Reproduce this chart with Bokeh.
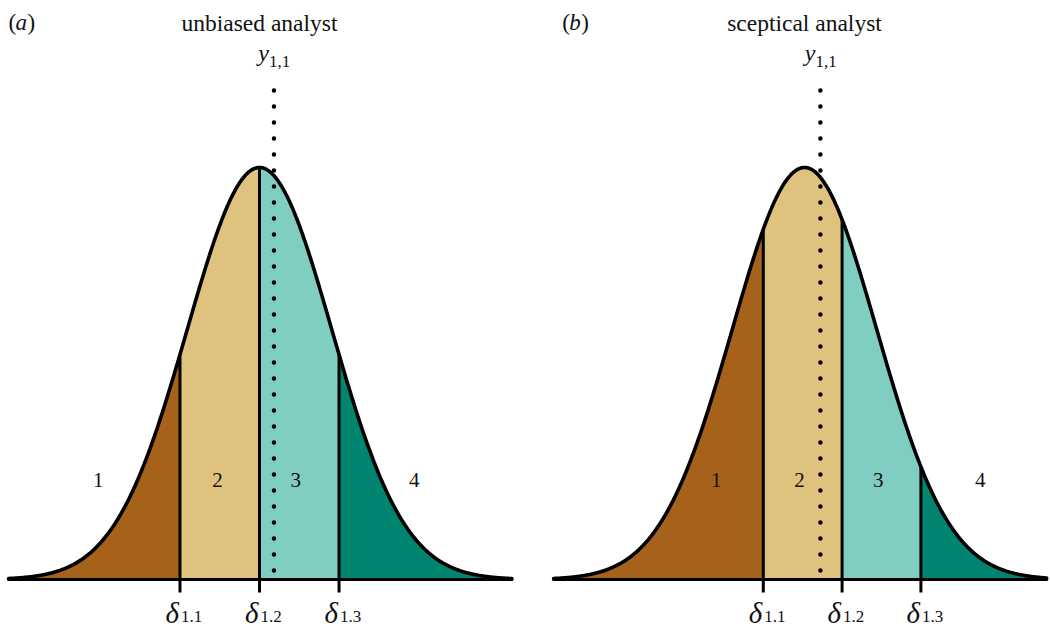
import numpy as np
from bokeh.plotting import figure
from bokeh.layouts import row
from bokeh.models import Range1d
from bokeh.core.properties import value
from bokeh.embed import file_html
from bokeh.resources import INLINE

# ---- data ----
PANEL_TAGS = ["a", "b"]
TITLES = ["unbiased analyst", "sceptical analyst"]
MU = [0.0, 0.0]
SIGMA = [1.0, 1.0]
THRESHOLDS = [[-1.10, 0.0, 1.10], [-0.57, 0.52, 1.61]]
Y11 = [0.20, 0.22]
REGION_LABELS = ["1", "2", "3", "4"]
REGION_LABEL_X = [[-2.23, -0.58, 0.50, 2.14], [-1.22, -0.07, 1.02, 2.43]]
DELTA_SUBS = ["1.1", "1.2", "1.3"]
CURVE_LO = [-3.47, -3.47]
CURVE_HI = [3.49, 3.35]
TAG_X = [-3.47, -3.35]
COLORS = ["#A6611A", "#DFC27D", "#80CDC1", "#018571"]

# ---- layout constants ----
PX_X = 72.3      # px per sd
PX_Y = 412.0     # px per unit of (peak-normalised) density
CENTER_PX = [259, 279]
W, H = 525, 629
BASE_PX = 579
TSHIFT = 8       # svg baseline correction (px)
SERIF = value("Liberation Serif")


def ypx(py):
    return (BASE_PX - py) / PX_Y


def typx(py):
    return ypx(py - TSHIFT)


def dens(x, mu, sd):
    return np.exp(-0.5 * ((np.asarray(x) - mu) / sd) ** 2)


def panel(i):
    c = CENTER_PX[i]
    p = figure(width=W, height=H, output_backend="svg", toolbar_location=None,
               x_range=Range1d(-c / PX_X, (W - c) / PX_X),
               y_range=Range1d(ypx(H), ypx(0)), min_border=0)
    p.axis.visible = False
    p.grid.visible = False
    p.outline_line_color = None
    p.background_fill_color = "white"
    p.border_fill_color = "white"

    mu, sd = MU[i], SIGMA[i]
    thr = THRESHOLDS[i]
    edges = [CURVE_LO[i]] + thr + [CURVE_HI[i]]
    for k in range(4):
        xs = np.linspace(edges[k], edges[k + 1], 200)
        p.varea(x=xs, y1=np.zeros_like(xs), y2=dens(xs, mu, sd), fill_color=COLORS[k])

    # dotted observation line
    p.line(x=[Y11[i], Y11[i]], y=[ypx(90), 0], line_color="black", line_width=4.5,
           line_dash="0 16", line_cap="round")

    # threshold lines
    for t in thr:
        p.line(x=[t, t], y=[ypx(592), float(dens(t, mu, sd))], line_color="black",
               line_width=3)

    xs = np.linspace(CURVE_LO[i], CURVE_HI[i], 600)
    p.line(x=[CURVE_LO[i], CURVE_HI[i]], y=[0, 0], line_color="black", line_width=3.2,
           line_cap="round")
    p.line(x=xs, y=dens(xs, mu, sd), line_color="black", line_width=3.6,
           line_cap="round", line_join="round")

    common = dict(text_font=SERIF, text_baseline="alphabetic", text_color="#111111")

    # title and tag
    p.text(x=[mu], y=[typx(30)], text=[TITLES[i]], text_font_size=value("23.5px"),
           text_align="center", **common)
    p.text(x=[TAG_X[i]], y=[typx(30)], text=["("], text_font_size=value("23px"),
           text_align="left", **common)
    p.text(x=[TAG_X[i]], y=[typx(30)], text=[PANEL_TAGS[i]], text_font_size=value("23px"),
           text_align="left", x_offset=7, text_font_style="italic", **common)
    p.text(x=[TAG_X[i]], y=[typx(30)], text=[")"], text_font_size=value("23px"),
           text_align="left", x_offset=19, **common)

    # y_{1,1}
    p.text(x=[Y11[i]], y=[typx(60)], text=["y"], text_font_size=value("24px"),
           text_align="right", x_offset=-5, text_font_style="italic", **common)
    p.text(x=[Y11[i]], y=[typx(69)], text=["1,1"], text_font_size=value("17px"),
           text_align="left", x_offset=-5, **common)

    # region labels
    p.text(x=REGION_LABEL_X[i], y=[typx(487)] * 4, text=REGION_LABELS,
           text_font_size=value("21px"), text_align="center", **common)

    # delta labels
    p.text(x=thr, y=[typx(620)] * 3, text=["δ"] * 3, text_font_size=value("29px"),
           text_align="right", x_offset=-1, text_font_style="italic", **common)
    p.text(x=thr, y=[typx(624)] * 3, text=DELTA_SUBS, text_font_size=value("17px"),
           text_align="left", x_offset=1, **common)
    return p


layout = row(panel(0), panel(1))
open("out.html", "w").write(file_html(layout, INLINE))
